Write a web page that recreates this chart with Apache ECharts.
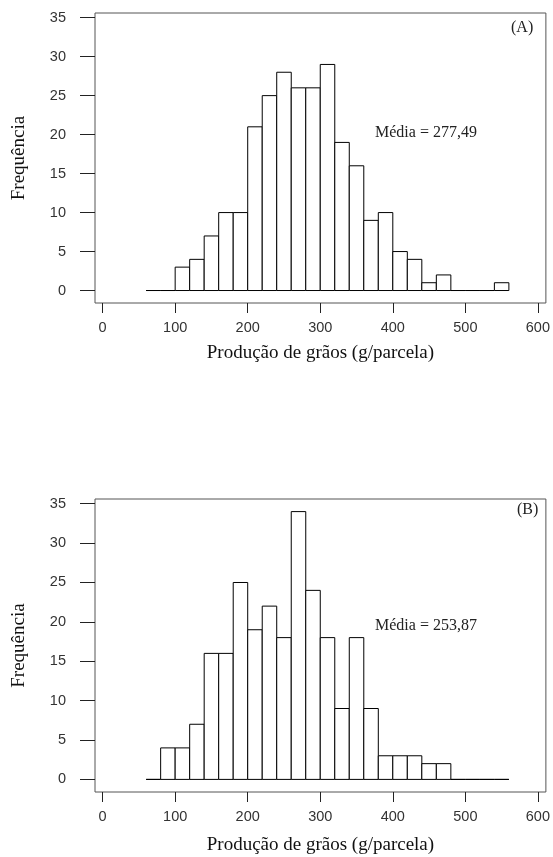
<!DOCTYPE html>
<html>
<head>
<meta charset="utf-8">
<script src="https://cdn.jsdelivr.net/npm/echarts@6/dist/echarts.min.js"></script>
<style>html,body{margin:0;padding:0;background:#fff;}#c{width:553px;height:857px;}</style>
</head>
<body>
<div id="c"></div>
<script>
// Bin edges (g/parcela), width 20
const binEdges = [60,80,100,120,140,160,180,200,220,240,260,280,300,320,340,360,380,400,420,440,460,480,500,520,540,560];
// Frequencies per bin
const countsA = [0,0,3,4,7,10,10,21,25,28,26,26,29,19,16,9,10,5,4,1,2,0,0,0,1];
const countsB = [0,4,4,7,16,16,25,19,22,18,34,24,18,9,18,9,3,3,3,2,2,0,0,0,0];
const xTicks = [0,100,200,300,400,500,600];
const yTicks = [0,5,10,15,20,25,30,35];
const panelLabels = ['(A)','(B)'];
const meanLabels = ['Média = 277,49','Média = 253,87'];
const xTitle = 'Produção de grãos (g/parcela)';
const yTitle = 'Frequência';

function toData(counts){
  return counts.map((c,i)=>[binEdges[i], binEdges[i+1], c]);
}

const chart = echarts.init(document.getElementById('c'), null, {renderer:'canvas'});
const serif = 'Liberation Serif';
const sans = 'Liberation Sans';

function makeX(idx, gap){
  return {
    type:'value', gridIndex:idx, min:-10.5, max:611,
    axisLine:{show:false, onZero:false}, splitLine:{show:false},
    axisTick:{show:true, length:10, lineStyle:{color:'#222'}, customValues:xTicks},
    axisLabel:{show:true, margin:17, fontFamily:sans, fontSize:14.5, color:'#333', customValues:xTicks},
    name:xTitle, nameLocation:'middle', nameGap:gap,
    nameTextStyle:{fontFamily:serif, fontSize:19, color:'#111'}
  };
}
function makeY(idx){
  return {
    type:'value', gridIndex:idx, min:-1.6, max:35.6,
    axisLine:{show:false, onZero:false}, splitLine:{show:false},
    axisTick:{show:true, length:15, lineStyle:{color:'#222'}, customValues:yTicks},
    axisLabel:{show:true, margin:29, fontFamily:sans, fontSize:14.5, color:'#333', customValues:yTicks},
    name:yTitle, nameLocation:'middle', nameGap:66,
    nameTextStyle:{fontFamily:serif, fontSize:19, color:'#111'}
  };
}
function renderHist(params, api){
  const p0 = api.coord([api.value(0), api.value(2)]);
  const p1 = api.coord([api.value(1), 0]);
  return {
    type:'rect',
    shape:{x:p0[0], y:p0[1], width:p1[0]-p0[0], height:p1[1]-p0[1]},
    style:{fill:'#fff', stroke:'#000', lineWidth:1}
  };
}

chart.setOption({
  animation:false,
  grid:[
    {left:95, top:13, width:452, height:290, show:true, borderColor:'#555', borderWidth:1, backgroundColor:'transparent'},
    {left:95, top:499, width:452, height:293, show:true, borderColor:'#555', borderWidth:1, backgroundColor:'transparent'}
  ],
  xAxis:[makeX(0, 41), makeX(1, 44)],
  yAxis:[makeY(0), makeY(1)],
  series:[
    {type:'custom', xAxisIndex:0, yAxisIndex:0, data:toData(countsA), renderItem:renderHist, encode:{x:[0,1], y:2}},
    {type:'custom', xAxisIndex:1, yAxisIndex:1, data:toData(countsB), renderItem:renderHist, encode:{x:[0,1], y:2}}
  ],
  graphic:[
    {type:'text', left:511, top:20, style:{text:panelLabels[0], font:'16px "Liberation Serif"', fill:'#222'}},
    {type:'text', left:517, top:502, style:{text:panelLabels[1], font:'16px "Liberation Serif"', fill:'#222'}},
    {type:'text', left:375, top:125, style:{text:meanLabels[0], font:'16px "Liberation Serif"', fill:'#222'}},
    {type:'text', left:375, top:618, style:{text:meanLabels[1], font:'16px "Liberation Serif"', fill:'#222'}}
  ]
});
</script>
</body>
</html>
